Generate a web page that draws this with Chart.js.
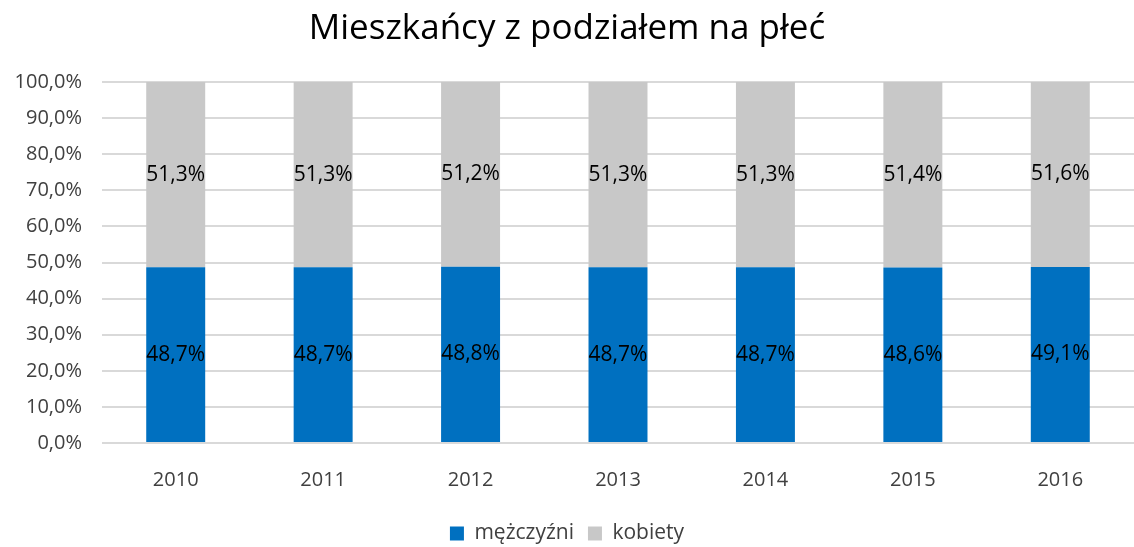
<!DOCTYPE html>
<html>
<head>
<meta charset="utf-8">
<script src="https://cdn.jsdelivr.net/npm/chart.js@4.4.0/dist/chart.umd.min.js"></script>
<style>
  html, body { margin: 0; padding: 0; background: #fff; }
  #wrap { width: 1134px; height: 547px; }
</style>
</head>
<body>
<div id="wrap"><canvas id="myChart" width="1134" height="547"></canvas></div>
<script>
const years = ['2010', '2011', '2012', '2013', '2014', '2015', '2016'];
const men = [48.7, 48.7, 48.8, 48.7, 48.7, 48.6, 49.1];
const women = [51.3, 51.3, 51.2, 51.3, 51.3, 51.4, 51.6];
const yTicks = [0, 10, 20, 30, 40, 50, 60, 70, 80, 90, 100];

const fontName = "'Open Sans', 'Noto Sans', sans-serif";
const fmt = v => v.toFixed(1).replace('.', ',') + '%';

// 100% stacked like excel: heights are shares of the column total
const menShare = men.map((v, i) => v / (v + women[i]) * 100);
const womenShare = women.map((v, i) => v / (men[i] + v) * 100);

// labels inside bars show the original values
const barLabels = {
    id: 'barLabels',
    afterDatasetsDraw(chart) {
        const ctx = chart.ctx;
        ctx.save();
        ctx.font = '21px ' + fontName;
        ctx.fillStyle = '#000';
        ctx.textAlign = 'center';
        ctx.textBaseline = 'middle';
        chart.data.datasets.forEach((ds, di) => {
            const raw = di === 0 ? men : women;
            chart.getDatasetMeta(di).data.forEach((bar, i) => {
                const mid = (bar.y + bar.base) / 2;
                ctx.fillText(fmt(raw[i]), bar.x, mid);
            });
        });
        ctx.restore();
    }
};

const ctx = document.getElementById('myChart').getContext('2d');
new Chart(ctx, {
    type: 'bar',
    data: {
        labels: years,
        datasets: [{
            label: 'mężczyźni',
            data: menShare,
            backgroundColor: '#0070c0',
            categoryPercentage: 1,
            barPercentage: 0.4
        }, {
            label: 'kobiety',
            data: womenShare,
            backgroundColor: '#c8c8c8',
            categoryPercentage: 1,
            barPercentage: 0.4
        }]
    },
    options: {
        responsive: false,
        animation: false,
        layout: { padding: { left: 0, right: 0, top: 0, bottom: -7 } },
        plugins: {
            title: {
                display: true,
                text: 'Mieszkańcy z podziałem na płeć',
                color: '#000',
                font: { family: fontName, size: 35, weight: 'normal' },
                padding: { top: 8, bottom: 32 }
            },
            legend: {
                position: 'bottom',
                labels: {
                    color: '#404040',
                    font: { family: fontName, size: 21 },
                    boxWidth: 14,
                    boxHeight: 14,
                    padding: 14
                }
            },
            tooltip: { enabled: false }
        },
        scales: {
            x: {
                stacked: true,
                grid: { display: false },
                border: { display: false },
                ticks: {
                    color: '#404040',
                    font: { family: fontName, size: 20 },
                    padding: 17
                }
            },
            y: {
                stacked: true,
                min: 0,
                max: 100,
                afterFit(scale) { scale.width = 102; },
                afterBuildTicks(scale) { scale.ticks = yTicks.map(v => ({ value: v })); },
                grid: { color: '#d9d9d9', lineWidth: 2, drawTicks: false },
                border: { display: false },
                ticks: {
                    color: '#404040',
                    font: { family: fontName, size: 20 },
                    padding: 20,
                    callback: v => fmt(v)
                }
            }
        }
    },
    plugins: [barLabels]
});
</script>
</body>
</html>
